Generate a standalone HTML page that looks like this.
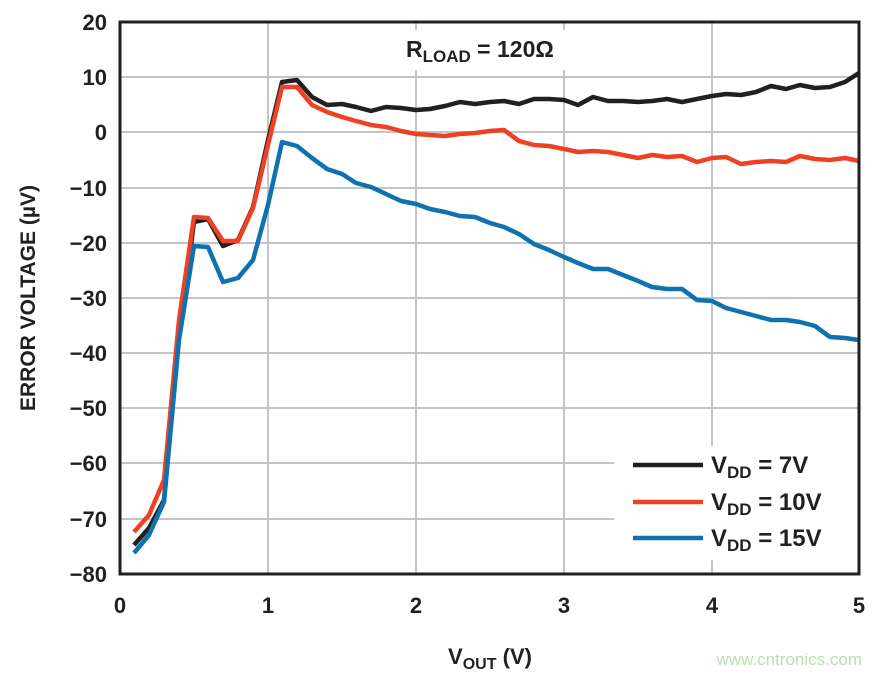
<!DOCTYPE html>
<html><head><meta charset="utf-8"><style>body{margin:0;background:#fff}svg{display:block}</style></head><body>
<svg width="884" height="674" viewBox="0 0 884 674" xmlns="http://www.w3.org/2000/svg" font-family="Liberation Sans, sans-serif" font-weight="bold">
<g stroke="#c4c4c8" stroke-width="2">
<line x1="268" y1="22" x2="268" y2="574"/><line x1="416" y1="22" x2="416" y2="574"/><line x1="564" y1="22" x2="564" y2="574"/><line x1="712" y1="22" x2="712" y2="574"/>
<line x1="120" y1="77" x2="859" y2="77"/><line x1="120" y1="132" x2="859" y2="132"/><line x1="120" y1="188" x2="859" y2="188"/><line x1="120" y1="243" x2="859" y2="243"/><line x1="120" y1="298" x2="859" y2="298"/><line x1="120" y1="353" x2="859" y2="353"/><line x1="120" y1="408" x2="859" y2="408"/><line x1="120" y1="463" x2="859" y2="463"/><line x1="120" y1="519" x2="859" y2="519"/>
</g>
<rect x="614" y="446" width="244" height="114" fill="#fff"/>
<rect x="360" y="30" width="230" height="40" fill="#fff"/>
<g fill="none" stroke-width="4.5" stroke-linejoin="round">
<polyline stroke="#231f20" points="134,545 149,528 164,500 179,335 194,222 208,219 223,246 238,240 253,207 268,140 282,82 297,80 312,97 327,105 342,104 356,107 371,111 386,107 401,108 416,110 430,109 445,106 460,102 475,104 490,102 504,101 519,104 534,99 549,99 564,100 578,105 593,97 608,101 623,101 638,102 652,101 667,99 682,102 697,99 712,96 726,94 741,95 756,92 771,86 786,89 800,85 815,88 830,87 845,82 859,73"/>
<polyline stroke="#ee4023" points="134,532 149,515 164,480 179,320 194,217 208,218 223,241 238,241 253,208 268,145 282,87 297,87 312,105 327,112 342,117 356,121 371,125 386,127 401,131 416,134 430,135 445,136 460,134 475,133 490,131 504,130 519,141 534,145 549,146 564,149 578,152 593,151 608,152 623,155 638,158 652,155 667,157 682,156 697,162 712,158 726,157 741,164 756,162 771,161 786,162 800,156 815,159 830,160 845,158 859,161"/>
<polyline stroke="#0f72b0" points="134,553 149,535 164,502 179,340 194,246 208,247 223,282 238,278 253,260 268,205 282,142 297,146 312,158 327,169 342,174 356,183 371,187 386,194 401,201 416,204 430,209 445,212 460,216 475,217 490,223 504,227 519,234 534,244 549,250 564,257 578,263 593,269 608,269 623,275 638,281 652,287 667,289 682,289 697,300 712,301 726,308 741,312 756,316 771,320 786,320 800,322 815,326 830,337 845,338 859,340"/>
</g>
<rect x="120" y="22" width="739" height="552" fill="none" stroke="#231f20" stroke-width="3"/>
<g font-size="22" fill="#231f20" text-anchor="end">
<text x="107" y="30">20</text><text x="107" y="85">10</text><text x="107" y="140">0</text><text x="107" y="196">−10</text><text x="107" y="251">−20</text><text x="107" y="306">−30</text><text x="107" y="361">−40</text><text x="107" y="416">−50</text><text x="107" y="471">−60</text><text x="107" y="527">−70</text><text x="107" y="582">−80</text>
</g>
<g font-size="22" fill="#231f20" text-anchor="middle">
<text x="120" y="613">0</text><text x="268" y="613">1</text><text x="416" y="613">2</text><text x="564" y="613">3</text><text x="712" y="613">4</text><text x="859" y="613">5</text>
<text x="490" y="664">V<tspan font-size="16" dy="5">OUT</tspan><tspan dy="-5"> (V)</tspan></text>
<text transform="translate(35,298) rotate(-90)" font-size="21">ERROR VOLTAGE (µV)</text>
</g>
<text x="406" y="57" font-size="23" fill="#231f20">R<tspan font-size="17" dy="5">LOAD</tspan><tspan dy="-5"> = 120Ω</tspan></text>
<g stroke-width="4.5">
<line x1="633" y1="465" x2="703" y2="465" stroke="#231f20"/>
<line x1="633" y1="502" x2="703" y2="502" stroke="#ee4023"/>
<line x1="633" y1="538" x2="703" y2="538" stroke="#0f72b0"/>
</g>
<g font-size="24" fill="#231f20">
<text x="711" y="473">V<tspan font-size="17" dy="5">DD</tspan><tspan dy="-5"> = 7V</tspan></text>
<text x="711" y="510">V<tspan font-size="17" dy="5">DD</tspan><tspan dy="-5"> = 10V</tspan></text>
<text x="711" y="546">V<tspan font-size="17" dy="5">DD</tspan><tspan dy="-5"> = 15V</tspan></text>
</g>
<text x="862" y="665" font-size="17" font-weight="normal" fill="#b8e0b0" text-anchor="end">www.cntronics.com</text>
</svg>
</body></html>
